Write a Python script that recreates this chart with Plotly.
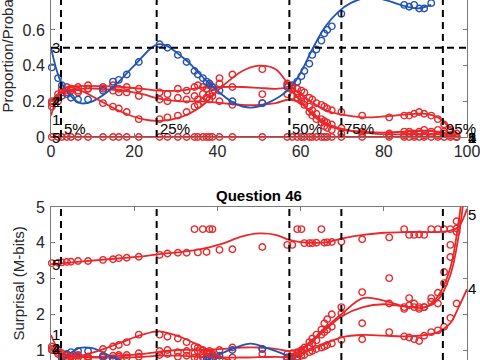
import plotly.graph_objects as go

# ---------------- data ----------------
x_obs = [0.2, 1.7, 2.6, 3.8, 4.8, 6.5, 8.9, 12.5, 14.9, 16.3, 18.2, 21.1, 26.1, 28.0, 30.5, 32.6, 34.5, 35.3, 36.5, 37.4,
         38.1, 38.8, 40.5, 43.6, 50.8, 56.8, 58.0, 59.2, 60.2, 60.9, 62.1, 62.8, 63.8, 65.0, 65.7, 66.4, 67.5, 69.8, 74.8, 81.3,
         84.9, 86.1, 87.3, 88.5, 89.7, 91.4, 93.0, 94.5, 96.0, 97.5]

# proportions (top panel), answers 1..5
prop_a1 = [0.17, 0.24, 0.27, 0.28, 0.27, 0.28, 0.29, 0.28, 0.29, 0.27, 0.28, 0.27, 0.25, 0.24, 0.27, 0.26, 0.28, 0.29, 0.28, 0.27,
           0.29, 0.28, 0.33, 0.28, 0.24, 0.29, 0.27, 0.24, 0.22, 0.20, 0.17, 0.15, 0.13, 0.10, 0.09, 0.08, 0.07, 0.05, 0.03, 0.02,
           0.03, 0.03, 0.02, 0.03, 0.04, 0.03, 0.04, 0.02, 0.01, 0.0]
prop_a2 = [0.19, 0.20, 0.23, 0.25, 0.26, 0.25, 0.27, 0.27, 0.26, 0.25, 0.25, 0.23, 0.21, 0.20, 0.22, 0.21, 0.23, 0.21, 0.24, 0.22,
           0.21, 0.23, 0.20, 0.18, 0.19, 0.24, 0.23, 0.22, 0.20, 0.18, 0.14, 0.12, 0.10, 0.08, 0.06, 0.05, 0.04, 0.02, 0.02, 0.01,
           0.01, 0.02, 0.01, 0.02, 0.01, 0.02, 0.01, 0.03, 0.01, 0.0]
prop_a3 = [0.39, 0.33, 0.29, 0.24, 0.22, 0.21, 0.21, 0.26, 0.31, 0.32, 0.35, 0.42, 0.52, 0.50, 0.46, 0.42, 0.37, 0.35, 0.33, 0.31,
           0.30, 0.28, 0.26, 0.20, 0.19, 0.28, 0.29, 0.31, 0.34, 0.37, 0.41, 0.46, 0.49, 0.54, 0.58, 0.60, 0.62, 0.69, 0.80, 0.79,
           0.74, 0.73, 0.74, 0.72, 0.72, 0.75, None, None, None, None]
prop_a4 = [0.20, 0.22, 0.25, 0.26, 0.27, 0.26, 0.27, 0.19, 0.17, 0.16, 0.14, 0.10, 0.10, 0.11, 0.12, 0.14, 0.17, 0.18, 0.20, 0.22,
           0.24, 0.25, 0.30, 0.35, 0.38, 0.30, 0.28, 0.27, 0.26, 0.25, 0.22, 0.21, 0.19, 0.18, 0.17, 0.16, 0.15, 0.14, 0.12, 0.11,
           0.12, 0.12, 0.13, 0.14, 0.13, 0.12, 0.10, 0.07, 0.04, 0.02]
prop_a5 = [0.0, 0.0, 0.0, 0.0, 0.0, 0.0, 0.0, 0.0, 0.0, 0.0, 0.0, 0.0, 0.0, 0.0, 0.0, 0.0, 0.0, 0.0, 0.0, 0.0,
           0.0, 0.0, 0.0, 0.0, 0.0, 0.0, 0.0, 0.0, 0.0, 0.0, 0.0, 0.0, 0.0, 0.0, 0.0, 0.0, 0.0, 0.0, 0.0, 0.0,
           0.0, 0.0, 0.0, 0.0, 0.0, 0.0, 0.0, 0.0, 0.0, 0.0]

# smoothed curves (top panel)
knot_x = [0, 3, 7, 12, 17, 22, 26, 31, 36, 41, 46, 50, 54, 57.3, 60, 63, 66, 70, 75, 80, 85, 90, 93, 96, 98]
line_a1 = [0.12, 0.27, 0.285, 0.285, 0.28, 0.27, 0.26, 0.26, 0.275, 0.28, 0.28, 0.275, 0.27, 0.27, 0.20,
           0.12, 0.07, 0.04, 0.03, 0.025, 0.03, 0.035, 0.03, 0.015, 0.0]
line_a2 = [0.20, 0.25, 0.27, 0.27, 0.26, 0.24, 0.215, 0.20, 0.20, 0.19, 0.18, 0.18, 0.19, 0.21, 0.19,
           0.13, 0.08, 0.045, 0.025, 0.015, 0.015, 0.015, 0.015, 0.01, 0.0]
line_a4 = [0.20, 0.26, 0.26, 0.20, 0.14, 0.10, 0.09, 0.11, 0.17, 0.28, 0.37, 0.40, 0.38, 0.29, 0.24,
           0.19, 0.15, 0.125, 0.11, 0.115, 0.125, 0.13, 0.11, 0.05, 0.01]
line_a5 = [0.0, 0.0, 0.0, 0.0, 0.0, 0.0, 0.0, 0.0, 0.0, 0.0, 0.0, 0.0, 0.0, 0.0, 0.0,
           0.0, 0.0, 0.0, 0.0, 0.0, 0.0, 0.0, 0.0, 0.0, 0.0]
blue_knot_x = [0, 2, 4, 7, 10, 15, 20, 26, 32, 38, 44, 48, 52, 57.3, 60, 63, 66, 69, 72, 76, 80, 84, 88, 91.4]
line_a3 = [0.50, 0.33, 0.25, 0.19, 0.20, 0.28, 0.40, 0.52, 0.44, 0.30, 0.19, 0.165, 0.19, 0.27, 0.36,
           0.50, 0.62, 0.70, 0.75, 0.78, 0.77, 0.74, 0.72, 0.74]

# surprisal (bottom panel)
surp_a1 = [1.10, 0.89, 0.81, 0.79, 0.81, 0.79, 0.77, 0.79, 0.77, 0.81, 0.79, 0.81, 0.86, 0.89, 0.81, 0.84, 0.79, 0.77, 0.79, 0.81,
           0.77, 0.79, 0.69, 0.79, 0.89, 0.77, 0.81, 0.89, 0.94, 1.00, 1.10, 1.18, 1.27, 1.43, 1.50, 1.57, 1.65, 2.03, 2.62, 3.01,
           2.20, 2.45, 2.20, 2.20, 2.20, 2.45, 2.30, 2.87, 3.60, 4.30]
surp_a2 = [1.03, 1.00, 0.91, 0.86, 0.84, 0.86, 0.81, 0.81, 0.84, 0.86, 0.86, 0.91, 0.97, 1.00, 0.94, 0.97, 0.91, 0.97, 0.89, 0.94,
           0.97, 0.91, 1.00, 1.07, 1.03, 0.89, 0.91, 0.94, 1.00, 1.07, 1.22, 1.32, 1.43, 1.57, 1.75, 1.86, 2.00, 2.20, 1.75, 2.30,
           2.15, 2.25, 2.30, 2.15, 2.20, 2.35, 2.60, 3.18, 3.94, 4.60]
surp_a3 = [0.59, 0.69, 0.77, 0.89, 0.94, 0.97, 0.97, 0.84, 0.73, 0.71, 0.65, 0.54, 0.41, 0.43, 0.48, 0.54, 0.62, 0.65, 0.69, 0.73,
           0.75, 0.79, 0.84, 1.00, 1.03, 0.79, 0.77, 0.73, 0.67, 0.62, 0.55, 0.48, 0.44, 0.38, 0.34, 0.32, 0.30, 0.23, 0.14, 0.15,
           0.19, 0.20, 0.19, 0.20, 0.20, 0.18, None, None, None, None]
surp_a4 = [1.00, 0.94, 0.86, 0.84, 0.81, 0.84, 0.81, 1.03, 1.10, 1.14, 1.22, 1.43, 1.43, 1.37, 1.32, 1.22, 1.10, 1.07, 1.00, 0.94,
           0.89, 0.86, 0.75, 0.65, 0.60, 0.75, 0.79, 0.81, 0.84, 0.86, 0.94, 0.97, 1.03, 1.07, 1.10, 1.14, 1.18, 1.28, 1.30, 1.50,
           1.38, 1.35, 1.30, 1.25, 1.40, 1.50, 1.55, 1.65, 1.90, 2.30]
surp_a5 = [3.43, 3.44, 3.45, 3.46, 3.47, 3.49, 3.49, 3.52, 3.54, 3.57, 3.58, 3.61, 3.66, 3.70, 3.72, 3.72, 4.38, 3.73, 4.38, 3.74,
           4.38, 4.38, 3.80, 3.82, 3.88, 3.94, 3.94, 4.38, 4.38, 3.99, 3.99, 3.99, 4.00, 4.38, 4.00, 4.01, 4.02, 4.03, 4.10, 4.15,
           4.38, 4.22, 4.22, 4.23, 4.22, 4.38, 4.38, 4.38, 4.38, 4.40]

bknot_x = [0, 3, 7, 12, 17, 22, 26, 31, 36, 41, 46, 50, 54, 57.3, 60, 63, 66, 70, 75, 80, 85, 90, 93, 96, 98, 100]
bline_a1 = [1.42, 0.85, 0.80, 0.79, 0.79, 0.81, 0.84, 0.84, 0.80, 0.79, 0.79, 0.80, 0.81, 0.81, 1.00,
            1.30, 1.62, 2.02, 2.45, 2.38, 2.22, 2.20, 2.40, 3.10, 4.20, 6.00]
bline_a2 = [1.05, 0.86, 0.81, 0.81, 0.84, 0.89, 0.95, 1.00, 1.00, 1.03, 1.07, 1.07, 1.03, 0.97, 1.03,
            1.27, 1.57, 1.95, 2.20, 2.28, 2.22, 2.20, 2.50, 3.30, 4.60, 6.50]
bline_a4 = [1.05, 0.84, 0.84, 1.00, 1.22, 1.43, 1.52, 1.37, 1.10, 0.79, 0.62, 0.57, 0.60, 0.77, 0.89,
            1.03, 1.18, 1.36, 1.42, 1.40, 1.38, 1.42, 1.50, 1.75, 2.20, 2.70]
bline_a5 = [3.40, 3.43, 3.47, 3.52, 3.57, 3.62, 3.68, 3.74, 3.82, 3.97, 4.18, 4.26, 4.22, 4.08, 4.02,
            4.00, 4.01, 4.12, 4.22, 4.28, 4.30, 4.30, 4.30, 4.34, 4.45, 4.95]
bline_a3 = [0.43, 0.69, 0.86, 1.06, 1.05, 0.79, 0.57, 0.41, 0.51, 0.75, 1.05, 1.18, 1.05, 0.81, 0.63,
            0.43, 0.30, 0.22, 0.18, 0.15, 0.16, 0.19, 0.20, 0.19]

pct_x = [2.4, 25.4, 57.3, 69.8, 94.2]
pct_text = ["5%", "25%", "50%", "75%", "95%"]
half_line = 0.5

top_left_labels = [("3", 0.5), ("4", 0.2), ("2", 0.2), ("1", 0.1), ("5", 0.0)]
top_right_labels = [("1", 0.0), ("2", 0.0), ("4", 0.0), ("5", 0.0)]
bot_left_labels = [("5", 3.4), ("1", 1.42), ("2", 1.05), ("4", 1.05)]
bot_right_labels = [("5", 4.78), ("4", 2.73)]

x_ticks = [0, 20, 40, 60, 80, 100]
y_ticks_top = [0, 0.2, 0.4, 0.6]
y_ticks_bot = [1, 2, 3, 4, 5]

# ---------------- style ----------------
RED = "#e8282b"
BLUE = "#2152b4"
FONT = "Liberation Sans, Arial, sans-serif"
AX = "#7a7a7a"
TXT = "#262626"

fig = go.Figure()

series_top = [
    (knot_x, line_a1, prop_a1, RED),
    (knot_x, line_a2, prop_a2, RED),
    (blue_knot_x, line_a3, prop_a3, BLUE),
    (knot_x, line_a4, prop_a4, RED),
    (knot_x, line_a5, prop_a5, RED),
]
series_bot = [
    (bknot_x, bline_a1, surp_a1, RED),
    (bknot_x, bline_a2, surp_a2, RED),
    (blue_knot_x, bline_a3, surp_a3, BLUE),
    (bknot_x, bline_a4, surp_a4, RED),
    (bknot_x, bline_a5, surp_a5, RED),
]

for (kx, ly, pts, col) in series_top:
    fig.add_trace(go.Scatter(x=kx, y=ly, mode="lines", line=dict(color=col, width=1.8, shape="spline", smoothing=1.0),
                             xaxis="x", yaxis="y", hoverinfo="skip"))
    fig.add_trace(go.Scatter(x=x_obs, y=pts, mode="markers", cliponaxis=False,
                             marker=dict(symbol="circle-open", size=6.5, color=col, line=dict(width=1.4, color=col)),
                             xaxis="x", yaxis="y", hoverinfo="skip"))

for (kx, ly, pts, col) in series_bot:
    fig.add_trace(go.Scatter(x=kx, y=ly, mode="lines", line=dict(color=col, width=1.8, shape="spline", smoothing=1.0),
                             xaxis="x2", yaxis="y2", hoverinfo="skip"))
    fig.add_trace(go.Scatter(x=x_obs, y=pts, mode="markers", cliponaxis=False,
                             marker=dict(symbol="circle-open", size=6.5, color=col, line=dict(width=1.4, color=col)),
                             xaxis="x2", yaxis="y2", hoverinfo="skip"))

shapes = []
for px in pct_x:
    for yref in ("y domain", "y2 domain"):
        shapes.append(dict(type="line", xref="x" if yref == "y domain" else "x2", yref=yref,
                           x0=px, x1=px, y0=0, y1=1, line=dict(color="black", width=2, dash="7px,5px")))
shapes.append(dict(type="line", xref="x", yref="y", x0=0, x1=100, y0=half_line, y1=half_line,
                   line=dict(color="black", width=2, dash="7px,5px")))

ann = []
lab_font = dict(family=FONT, size=15, color="black")
for t, yv in top_left_labels:
    ann.append(dict(x=0, y=yv, xref="x", yref="y", text=t, showarrow=False, xanchor="left", yanchor="middle",
                    font=lab_font, xshift=-1))
for t, yv in top_right_labels:
    ann.append(dict(x=100, y=yv, xref="x", yref="y", text=t, showarrow=False, xanchor="left", yanchor="middle",
                    font=lab_font, xshift=-1))
for t, yv in bot_left_labels:
    ann.append(dict(x=0, y=yv, xref="x2", yref="y2", text=t, showarrow=False, xanchor="left", yanchor="middle",
                    font=lab_font, xshift=-1))
for t, yv in bot_right_labels:
    ann.append(dict(x=100, y=yv, xref="x2", yref="y2", text=t, showarrow=False, xanchor="left", yanchor="middle",
                    font=lab_font, xshift=-1))
for px, t in zip(pct_x, pct_text):
    ann.append(dict(x=px, y=0.05, xref="x", yref="y", text=t, showarrow=False, xanchor="left", yanchor="middle",
                    font=lab_font, xshift=1))

ann.append(dict(x=8 / 480, y=0.54, xref="paper", yref="y", text="Proportion/Probability", textangle=-90,
                showarrow=False, xanchor="center", yanchor="middle", font=dict(family=FONT, size=15, color=TXT)))
ann.append(dict(x=19 / 480, y=2.86, xref="paper", yref="y2", text="Surprisal (M-bits)", textangle=-90,
                showarrow=False, xanchor="center", yanchor="middle", font=dict(family=FONT, size=15, color=TXT)))
ann.append(dict(x=259 / 480, y=1 - 196 / 360, xref="paper", yref="paper", text="<b>Question 46</b>",
                showarrow=False, xanchor="center", yanchor="middle", font=dict(family=FONT, size=15, color="black")))

xdom = [51 / 480, 467 / 480]
axis_common = dict(showgrid=False, zeroline=False, showline=True, linecolor=AX, linewidth=1, automargin=False,
                   ticks="inside", ticklen=4, tickcolor=AX, ticklabeloverflow="allow",
                   tickfont=dict(family=FONT, size=16, color=TXT))

fig.update_layout(
    width=480, height=360, margin=dict(l=0, r=0, t=0, b=0, autoexpand=False),
    paper_bgcolor="white", plot_bgcolor="white", showlegend=False,
    shapes=shapes, annotations=ann,
    xaxis=dict(domain=xdom, range=[0, 100], anchor="y", tickvals=x_ticks, ticktext=[str(v) for v in x_ticks],
               mirror=False, ticklabelstandoff=0, **axis_common),
    yaxis=dict(domain=[1 - 137 / 360, 1], range=[0, 137 / 178.5], anchor="x", tickvals=y_ticks_top,
               ticktext=["0", "0.2", "0.4", "0.6"], mirror="ticks", ticklabelstandoff=2, **axis_common),
    xaxis2=dict(domain=xdom, range=[0, 100], anchor="y2", side="top", tickvals=x_ticks, showticklabels=False,
                mirror=False, **axis_common),
    yaxis2=dict(domain=[0, 1 - 207 / 360], range=[5 - 153 / 35.75, 5], anchor="x2", tickvals=y_ticks_bot,
                ticktext=[str(v) for v in y_ticks_bot], mirror="ticks", ticklabelstandoff=2, **axis_common),
)

fig.write_html("out.html", config={"displayModeBar": False},
               post_script="document.body.style.margin='0';document.body.style.padding='0';"
                           "document.body.style.overflow='hidden';")
